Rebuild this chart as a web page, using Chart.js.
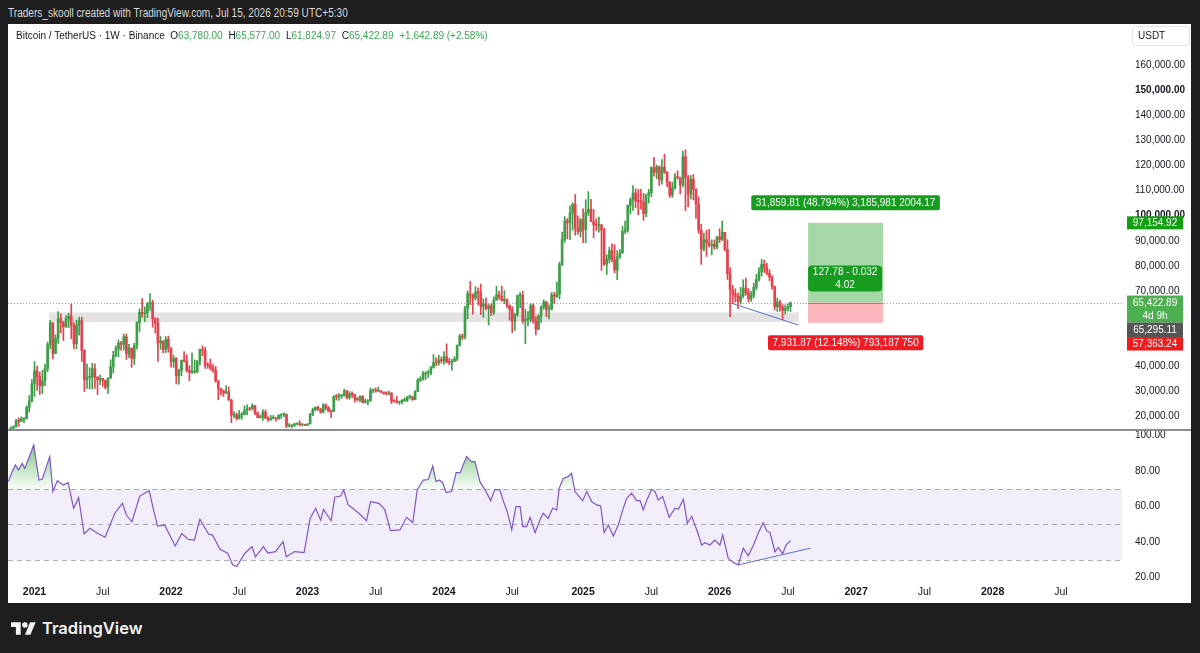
<!DOCTYPE html>
<html>
<head>
<meta charset="utf-8">
<title>Bitcoin / TetherUS 1W</title>
<script src="https://cdn.jsdelivr.net/npm/chart.js@4.4.1/dist/chart.umd.min.js"></script>
<style>
  html, body { margin: 0; padding: 0; }
  body { width: 1200px; height: 653px; background: #1e1e1e; position: relative; overflow: hidden; font-family: "Liberation Sans", Arial, sans-serif; }
  #hdr { position: absolute; left: 8px; top: 5px; font-size: 12px; line-height: 16px; color: #d8d8d8; white-space: nowrap; transform: scaleX(0.84); transform-origin: 0 0; }
  #panel { position: absolute; left: 8px; top: 24px; width: 1183px; height: 579px; background: #fff; }
  #priceCanvas { position: absolute; left: 0; top: 0; }
  #rsiCanvas { position: absolute; left: 0; top: 405px; }
  #legend { position: absolute; left: 8px; top: 5px; font-size: 10px; line-height: 14px; color: #131722; white-space: nowrap; }
  #legend .v { color: #3fa65a; margin-right: 3px; }
  #logo { position: absolute; left: 11px; top: 617px; height: 22px; display: flex; align-items: center; color: #f2f2f2; font-family: Inter, "Open Sans", sans-serif; font-weight: 600; font-size: 16.5px; }
  #logo svg { margin-right: 6px; }
</style>
</head>
<body>
<div id="hdr">Traders_skooll created with TradingView.com, Jul 15, 2026 20:59 UTC+5:30</div>
<div id="panel">
  <canvas id="priceCanvas" width="1183" height="405"></canvas>
  <canvas id="rsiCanvas" width="1183" height="174"></canvas>
  <div id="legend">Bitcoin / TetherUS · 1W · Binance&nbsp;&nbsp;O<span class="v">63,780.00</span> H<span class="v">65,577.00</span> L<span class="v">61,824.97</span> C<span class="v">65,422.89</span> <span class="v">+1,642.89 (+2.58%)</span></div>
</div>
<div id="logo">
  <svg width="25" height="13" viewBox="0 4 36 18"><path fill="#f2f2f2" d="M14 22H7V11H0V4h14v18zM28 22h-8l7.5-18h8L28 22z"/><circle fill="#f2f2f2" cx="20" cy="8" r="4"/></svg>
  <span>TradingView</span>
</div>
<script>
// weekly bars, week 0 = Monday 26 Oct 2020; prices in thousands of USDT
const weekOrigin = Date.UTC(2020, 9, 26);
const firstOpen = 13.03;

const closes = [
  13.55, 15.48, 15.96, 18.41, 18.18, 19.15, 19.27, 23.78, 26.27, 33.00,
  // 2021
  38.20, 36.00, 32.30, 34.30, 39.20, 48.60, 57.40, 45.20, 51.20, 59.00, 57.50, 55.80, 58.90,
  60.00, 56.20, 49.00, 56.60, 58.20, 46.40, 34.70, 35.60, 35.80, 39.10, 35.60, 34.70, 35.30,
  34.30, 31.80, 35.40, 39.80, 44.40, 47.00, 49.30, 48.80, 51.80, 45.00, 47.30, 43.20, 48.20,
  57.50, 61.50, 61.00, 61.30, 64.90, 65.50, 59.00, 57.30, 49.40, 50.10, 46.70, 50.80, 47.30,
  // 2022
  41.90, 43.10, 36.30, 38.50, 42.40, 42.20, 38.40, 37.70, 37.80, 37.80, 42.20, 46.80, 46.40,
  40.50, 40.40, 39.40, 38.50, 34.30, 31.30, 30.30, 29.40, 29.90, 26.60, 20.60, 20.80, 19.30,
  20.80, 20.80, 22.60, 23.30, 23.20, 24.40, 21.50, 19.60, 19.80, 21.80, 19.40, 18.80, 19.40,
  19.40, 19.20, 20.60, 20.80, 20.90, 16.30, 16.30, 16.45, 17.10, 17.10, 16.80, 16.80, 16.60,
  // 2023
  17.10, 20.90, 22.70, 23.70, 22.90, 21.80, 24.60, 23.60, 22.20, 22.10, 28.00, 27.90, 28.30,
  28.30, 30.30, 27.60, 29.20, 28.90, 26.90, 26.70, 28.10, 25.80, 25.90, 26.30, 30.50, 30.60,
  30.20, 30.20, 29.90, 29.30, 29.05, 29.40, 26.10, 26.00, 25.80, 25.80, 26.50, 26.50, 27.90,
  27.90, 26.80, 30.00, 34.50, 35.00, 37.00, 37.40, 37.45, 39.50, 41.50, 41.40, 42.50, 42.30,
  // 2024
  43.95, 41.70, 41.60, 42.00, 43.00, 48.30, 52.10, 51.70, 63.10, 68.90, 68.40, 67.20, 69.60,
  69.40, 63.90, 64.90, 63.10, 64.00, 61.50, 66.30, 68.50, 67.80, 66.20, 66.60, 64.25, 62.70,
  58.00, 60.80, 68.20, 68.25, 58.10, 58.70, 58.90, 64.20, 58.00, 54.80, 60.00, 63.60, 65.60,
  62.80, 62.80, 68.40, 67.90, 68.80, 80.40, 90.50, 97.90, 97.20, 101.10, 104.50, 95.20, 93.70, 98.40,
  // 2025
  94.50, 101.30, 102.60, 97.70, 96.50, 96.10, 96.30, 94.30, 80.70, 82.60, 86.10, 82.40, 78.40,
  83.70, 85.20, 93.70, 94.30, 104.10, 106.40, 109.00, 105.80, 105.70, 105.60, 100.90, 108.40, 109.20,
  119.10, 117.30, 119.40, 114.20, 119.30, 117.40, 113.50, 108.20, 111.10, 115.30, 115.20, 112.20, 123.50,
  115.10, 108.60, 114.50, 110.50, 104.70, 94.20, 86.80, 90.40, 89.30, 88.20, 88.60, 87.60, 91.50,
  // 2026
  90.50, 93.40, 86.60, 76.90, 70.50, 68.80, 67.90, 65.90, 68.20, 71.20, 69.40, 66.90, 68.30,
  71.50, 74.60, 77.60, 80.60, 79.40, 77.10, 75.60, 71.70, 63.80, 65.60, 63.60, 62.20, 63.00,
  63.78, 65.42289
];

const highs = [
  14.10, 15.97, 16.48, 18.95, 19.48, 19.92, 19.40, 24.30, 28.40, 34.80,
  // 2021
  41.95, 40.10, 37.80, 38.50, 40.95, 49.70, 58.35, 57.50, 52.60, 61.80, 61.00, 58.00, 60.20,
  61.20, 64.85, 57.50, 58.50, 59.60, 59.60, 46.60, 40.90, 39.50, 41.30, 41.00, 36.00, 36.60,
  35.10, 34.70, 35.45, 42.60, 46.00, 48.20, 50.50, 50.00, 52.90, 52.90, 48.80, 47.30, 49.20,
  57.80, 62.90, 67.00, 63.70, 65.50, 69.00, 66.40, 59.40, 59.20, 51.90, 50.20, 51.90, 52.10,
  // 2022
  47.50, 44.50, 43.50, 38.90, 42.60, 45.90, 44.60, 40.30, 45.40, 42.60, 42.30, 46.90, 48.20,
  47.60, 41.50, 42.97, 40.80, 40.00, 34.20, 31.00, 30.60, 32.40, 31.80, 26.90, 22.00, 21.50,
  22.50, 21.60, 24.30, 24.70, 23.60, 25.20, 24.50, 21.90, 20.60, 22.80, 22.70, 19.90, 20.50,
  20.50, 19.50, 20.80, 21.10, 21.50, 21.10, 17.20, 16.80, 17.40, 17.40, 18.40, 17.00, 16.90,
  // 2023
  17.20, 21.30, 23.40, 23.90, 24.25, 23.30, 25.25, 25.10, 24.00, 22.60, 28.40, 28.90, 29.20,
  28.80, 31.00, 30.50, 30.00, 29.90, 28.90, 27.60, 28.30, 28.40, 27.00, 26.80, 31.40, 31.00,
  31.50, 31.80, 30.40, 29.70, 29.90, 30.20, 29.60, 26.80, 28.10, 26.10, 26.80, 27.50, 28.00,
  28.60, 28.00, 30.40, 35.20, 35.90, 38.00, 37.90, 38.40, 40.00, 44.70, 43.40, 44.40, 43.80,
  // 2024
  45.90, 49.00, 43.20, 42.80, 43.90, 48.60, 52.80, 52.90, 64.00, 70.10, 73.80, 68.90, 71.80,
  71.30, 72.80, 66.90, 67.30, 64.70, 65.00, 67.70, 71.95, 70.00, 71.95, 70.20, 66.90, 64.50,
  63.80, 61.00, 68.40, 69.40, 70.00, 62.70, 61.80, 65.00, 64.90, 59.80, 60.60, 64.10, 66.50,
  66.00, 64.50, 69.40, 69.50, 73.60, 81.50, 93.50, 99.60, 98.90, 103.90, 105.20, 108.40, 99.90, 98.98,
  // 2025
  102.70, 106.40, 109.60, 106.50, 102.50, 98.80, 99.50, 96.50, 95.00, 84.50, 87.50, 88.80, 88.50,
  86.10, 86.50, 95.80, 97.90, 104.30, 107.10, 111.98, 110.70, 110.40, 110.50, 108.90, 108.50, 110.50,
  119.50, 123.20, 120.20, 119.80, 122.30, 124.50, 117.60, 113.40, 113.40, 116.80, 117.90, 114.00, 125.70,
  126.20, 116.10, 116.00, 116.40, 110.80, 107.50, 96.60, 93.10, 94.20, 94.60, 90.40, 90.40, 91.80,
  // 2026
  94.80, 97.90, 93.40, 90.50, 79.30, 72.30, 70.90, 69.30, 71.50, 74.50, 75.20, 71.00, 69.90,
  73.20, 76.60, 79.30, 82.60, 82.30, 81.00, 78.50, 76.20, 72.00, 67.20, 66.40, 64.60, 64.50,
  64.90, 65.577
];

const lows = [
  12.75, 13.20, 14.80, 15.80, 16.20, 18.10, 17.60, 19.00, 21.80, 25.90,
  // 2021
  28.10, 30.40, 28.85, 29.20, 32.30, 37.90, 47.00, 43.00, 45.00, 49.15, 53.30, 50.30, 55.50,
  55.40, 51.00, 47.00, 47.00, 52.40, 42.00, 30.00, 31.20, 31.00, 31.00, 31.25, 28.80, 32.70,
  32.10, 31.00, 29.30, 35.20, 37.30, 43.80, 43.90, 46.40, 46.50, 42.80, 43.40, 39.60, 40.80,
  46.90, 53.90, 59.50, 57.80, 59.40, 62.30, 55.60, 53.30, 42.00, 46.80, 45.50, 45.50, 45.70,
  // 2022
  39.70, 39.60, 33.00, 32.90, 36.20, 41.70, 37.80, 34.30, 37.20, 37.20, 37.60, 40.50, 44.20,
  39.20, 39.20, 38.50, 37.70, 33.70, 26.70, 28.60, 28.00, 29.30, 26.50, 17.60, 19.60, 18.60,
  19.00, 18.90, 21.00, 20.70, 22.40, 22.70, 20.80, 19.50, 19.50, 18.50, 19.30, 18.10, 18.50,
  19.10, 18.20, 18.90, 19.30, 20.00, 15.60, 15.80, 15.50, 16.00, 16.70, 16.30, 16.30, 16.40,
  // 2023
  16.50, 17.10, 20.40, 22.30, 22.50, 21.35, 21.50, 22.70, 21.90, 19.55, 21.90, 26.60, 26.50,
  27.20, 28.20, 27.10, 26.90, 27.70, 25.80, 26.20, 25.90, 25.40, 25.35, 24.80, 26.20, 29.50,
  29.70, 29.90, 29.50, 28.90, 28.60, 28.70, 25.20, 25.80, 25.30, 24.90, 25.10, 26.00, 26.00,
  27.20, 26.50, 26.90, 29.90, 33.90, 34.50, 34.80, 35.60, 36.70, 39.30, 40.20, 40.50, 41.30,
  // 2024
  40.75, 41.50, 40.60, 38.55, 41.90, 42.30, 48.10, 50.60, 50.90, 59.00, 64.60, 60.80, 66.40,
  64.50, 60.70, 59.60, 62.40, 56.50, 60.20, 60.70, 66.60, 66.70, 66.00, 65.00, 63.40, 58.40,
  53.50, 54.30, 59.90, 63.40, 57.10, 49.00, 56.10, 57.80, 57.20, 52.55, 54.60, 57.50, 62.70,
  59.80, 58.90, 62.40, 65.05, 67.40, 66.80, 80.20, 89.40, 90.80, 90.50, 94.20, 92.20, 92.50, 91.50,
  // 2025
  89.30, 89.30, 100.10, 97.60, 91.20, 94.10, 93.40, 78.20, 80.20, 76.60, 81.20, 81.60, 77.20,
  74.50, 83.00, 85.10, 92.80, 93.40, 100.70, 102.10, 103.10, 100.40, 102.70, 98.20, 99.60, 105.10,
  107.50, 115.70, 114.70, 112.00, 112.60, 116.80, 111.60, 107.30, 107.30, 110.60, 114.60, 108.60, 111.60,
  102.00, 103.50, 106.60, 106.30, 98.90, 93.00, 80.60, 86.00, 83.80, 87.60, 84.40, 86.60, 86.80,
  // 2026
  89.30, 90.10, 86.10, 74.60, 59.80, 65.10, 65.60, 63.00, 64.80, 67.30, 68.40, 65.60, 65.90,
  67.30, 70.50, 73.90, 76.00, 77.40, 76.30, 74.20, 70.80, 62.50, 61.90, 62.00, 58.50, 60.80,
  62.10, 61.82497
];

// RSI(14): week position and value
const rsiWeeks = [
  0, 1.2, 2.7, 3.9, 5.3, 6.3, 7.8, 9.7, 11.7, 12.9, 15.8, 17.0, 18.7, 20.9, 22.8, 24.9, 26.8,
  28.9, 31.1, 34.0, 36.9, 40.6, 43.5, 45.0, 47.1, 50.1, 53.7, 55.2, 56.9, 59.6, 61.7, 63.6,
  66.1, 68.6, 70.9, 73.0, 76.3, 77.8, 80.7, 83.6, 85.5, 87.0, 90.2, 92.8, 94.2, 97.2, 98.9,
  101.8, 104.7, 105.9, 109.1, 112.7, 115.0, 117.1, 119.0, 120.1, 123.0, 124.4, 126.6, 127.8,
  129.5, 131.7, 133.9, 136.5, 138.0, 141.2, 143.4, 145.6,
  149.2, 151.8, 154.1, 155.8, 158.1, 160.0, 161.7, 163.0, 164.2, 165.5, 166.8, 168.9, 170.6,
  172.1, 174.6, 176.5, 177.8, 179.7, 182.0, 183.8, 185.4, 187.3, 188.9, 190.1, 191.8, 193.4,
  195.0, 196.0, 197.5, 198.8, 200.7, 202.6, 203.8, 205.7, 207.4, 208.9, 209.9, 211.4, 213.3,
  214.6, 215.9, 217.5, 218.8, 220.4, 222.3, 224.2, 225.7, 227.0, 228.6, 230.5, 232.4, 234.1,
  235.6, 237.5, 239.4, 240.7, 241.9, 243.2, 245.1, 246.4, 247.6, 249.3, 251.8, 254.0, 255.3,
  257.2, 258.7, 260.4, 262.3, 264.2, 265.4, 267.3, 269.2, 271.1, 272.2, 274.3, 276.2, 278.1,
  280.0, 281.9, 283.8, 285.7, 287.6, 288.9, 290.2, 292.1, 293.3, 295.0, 296.3, 298
];
const rsiValues = [
  74.1, 78.8, 83.5, 80.7, 84.4, 81.6, 87.3, 94.8, 75.0, 75.4, 88.2, 68.5, 74.6, 72.2, 73.5, 59.1, 65.1,
  44.6, 47.8, 45.0, 42.8, 56.3, 61.9, 55.3, 51.5, 66.0, 69.0, 59.1, 49.1, 49.6, 43.5, 37.9,
  44.9, 41.6, 41.2, 52.9, 44.6, 44.0, 36.0, 33.8, 27.2, 26.3, 33.8, 37.5, 31.8, 37.5, 33.8,
  34.7, 40.3, 31.8, 34.7, 34.1, 53.4, 59.1, 52.4, 58.5, 52.1, 65.3, 66.0, 69.4,
  61.0, 58.5, 55.9, 52.1, 62.8, 61.9, 58.5, 46.5,
  46.9, 54.0, 51.1, 69.4, 75.0, 75.3, 82.9, 74.1, 75.0, 73.5, 67.9, 68.5, 79.2,
  79.2, 88.2, 85.4, 85.4, 74.1, 68.5, 63.4, 69.8, 69.4, 61.9, 57.2, 46.9, 60.0,
  60.0, 48.8, 48.8, 54.0, 45.4, 52.6, 56.3, 53.4, 59.1, 58.2, 70.3, 75.9, 76.9,
  78.8, 68.5, 65.7, 63.4, 68.5, 62.8, 61.0, 60.4, 45.4, 49.7, 43.5, 49.7, 58.2,
  64.7, 67.6, 63.4, 63.4, 58.2, 63.4, 69.8, 68.5, 63.8, 65.7, 54.0, 59.1, 58.5,
  64.2, 50.7, 54.5, 46.9, 38.4, 39.7, 38.4, 41.2, 38.4, 44.1, 30.9, 28.5, 27.2,
  36.6, 32.3, 38.0, 45.0, 51.0, 46.5, 45.4, 34.6, 37.0, 33.4, 38.4, 40.8
];

const timeTickMonths = [
  [2021, 0], [2021, 6], [2022, 0], [2022, 6], [2023, 0], [2023, 6], [2024, 0], [2024, 6],
  [2025, 0], [2025, 6], [2026, 0], [2026, 6], [2027, 0], [2027, 6], [2028, 0], [2028, 6]
];
const timeTickLabels = ['2021', 'Jul', '2022', 'Jul', '2023', 'Jul', '2024', 'Jul',
  '2025', 'Jul', '2026', 'Jul', '2027', 'Jul', '2028', 'Jul'];
const priceTicks = [20, 30, 40, 50, 60, 70, 80, 90, 100, 110, 120, 130, 140, 150, 160];
const rsiTicks = [20, 40, 60, 80, 100];

// drawings
const zoneWeeks = [15.5, 301.2];
const zonePrices = [57.7, 61.5];
const trendWeeks = [275.6, 301.0];
const trendPrices = [65.13, 56.49];
const rsiTrendWeeks = [278.1, 305.8];
const rsiTrendValues = [27.2, 36.7];
const positionWeeks = [304.7, 333.3];
const entryPrice = 65.42289;
const targetPrice = 97.15492;
const stopPrice = 57.36324;
const targetText = '31,859.81 (48.794%) 3,185,981 2004.17';
const stopText = '7,931.87 (12.148%) 793,187 750';
const ratioText = ['127.78 - 0.032', '4.02'];
const axisTags = { target: '97,154.92', last: '65,422.89', countdown: '4d 9h', prev: '65,295.11', stop: '57,363.24' };

const UP = '#3d9e48';
const DOWN = '#e3424e';
const FONT = '"Liberation Sans", Arial, sans-serif';
const X_MIN = -0.1, X_MAX = 424.3;
const AXIS_W = 69;

Chart.defaults.font.family = FONT;
Chart.defaults.color = '#131722';

function firstBarOfMonth(y, m) {
  const d = new Date(Date.UTC(y, m, 1));
  const shift = (8 - d.getUTCDay()) % 7;
  return Math.round((d.getTime() + shift * 864e5 - weekOrigin) / (7 * 864e5));
}
const timeTickWeeks = timeTickMonths.map(([y, m]) => firstBarOfMonth(y, m));

const opens = closes.map((c, i) => i === 0 ? firstOpen : closes[i - 1]);
const candleColors = closes.map((c, i) => c >= opens[i] ? UP : DOWN);

function roundBox(ctx, x, y, w, h, r, fill) {
  ctx.fillStyle = fill;
  ctx.beginPath();
  ctx.roundRect(x, y, w, h, r);
  ctx.fill();
}

function tag(ctx, lines, cx, cy, h, bg, fixedW, r) {
  ctx.font = '10px ' + FONT;
  const tw = Math.max(...lines.map(l => ctx.measureText(l).width));
  const w = fixedW || tw + 9;
  roundBox(ctx, cx - w / 2, cy - h / 2, w, h, r, bg);
  ctx.fillStyle = '#fff';
  ctx.textAlign = 'center';
  ctx.textBaseline = 'middle';
  const lh = h / lines.length;
  lines.forEach((l, i) => ctx.fillText(l, cx, cy - h / 2 + lh * (i + 0.5) + 0.5));
}

function axisTag(ctx, lines, x, top, h, bg) {
  ctx.fillStyle = bg;
  ctx.fillRect(x, top, 56, h);
  ctx.fillStyle = '#fff';
  ctx.font = '10px ' + FONT;
  ctx.textAlign = 'center';
  ctx.textBaseline = 'middle';
  const lh = h / lines.length;
  lines.forEach((l, i) => ctx.fillText(l, x + 28, top + lh * (i + 0.5) + 0.5));
}

const priceOverlay = {
  id: 'priceOverlay',
  beforeDatasetsDraw(chart) {
    const { ctx, chartArea: a, scales: { x, y } } = chart;
    ctx.save();
    // support zone
    const zx1 = x.getPixelForValue(zoneWeeks[0]);
    const zx2 = x.getPixelForValue(zoneWeeks[1]);
    const zy1 = y.getPixelForValue(zonePrices[1]);
    const zy2 = y.getPixelForValue(zonePrices[0]);
    ctx.fillStyle = 'rgba(0,0,0,0.11)';
    ctx.fillRect(zx1, zy1, zx2 - zx1, zy2 - zy1);
    // last price line
    const ly = Math.round(y.getPixelForValue(closes[closes.length - 1])) + 0.5;
    ctx.strokeStyle = '#9a9ca3';
    ctx.lineWidth = 1;
    ctx.setLineDash([1, 2]);
    ctx.beginPath();
    ctx.moveTo(a.left, ly);
    ctx.lineTo(a.right, ly);
    ctx.stroke();
    ctx.restore();
  },
  afterDatasetsDraw(chart) {
    const { ctx, scales: { x, y } } = chart;
    ctx.save();
    const px1 = x.getPixelForValue(positionWeeks[0]);
    const px2 = x.getPixelForValue(positionWeeks[1]);
    const yT = y.getPixelForValue(targetPrice);
    const yE = y.getPixelForValue(entryPrice);
    const yS = y.getPixelForValue(stopPrice);
    ctx.fillStyle = 'rgba(76,175,80,0.5)';
    ctx.fillRect(px1, yT, px2 - px1, yE - yT);
    ctx.fillStyle = 'rgba(242,54,69,0.36)';
    ctx.fillRect(px1, yE, px2 - px1, yS - yE);
    ctx.strokeStyle = '#8a8a8a';
    ctx.lineWidth = 1;
    ctx.beginPath();
    ctx.moveTo(px1, Math.round(yE) + 0.5);
    ctx.lineTo(px2, Math.round(yE) + 0.5);
    ctx.stroke();
    const cx = (px1 + px2) / 2;
    tag(ctx, [targetText], cx, yT - 20, 15, '#169c1f', 0, 2);
    tag(ctx, ratioText, cx - 0.5, yE - 24, 26, '#169c1f', px2 - px1 - 1, 4);
    tag(ctx, [stopText], cx, yS + 20, 15, '#ee1c25', 0, 2);
    ctx.restore();
  },
  afterDraw(chart) {
    const { ctx, chartArea: a, scales: { y } } = chart;
    ctx.save();
    const ax = a.right + 5;
    const yT = y.getPixelForValue(targetPrice);
    axisTag(ctx, [axisTags.target], ax, yT - 6.5, 13, '#12a012');
    const yE = y.getPixelForValue(entryPrice);
    axisTag(ctx, [axisTags.last, axisTags.countdown], ax, yE - 7, 27, '#4caf50');
    axisTag(ctx, [axisTags.prev], ax, yE + 20, 14.5, '#555555');
    axisTag(ctx, [axisTags.stop], ax, yE + 34.5, 13.5, '#f21b1b');
    // currency box
    ctx.fillStyle = '#fff';
    ctx.strokeStyle = '#e0e3eb';
    ctx.lineWidth = 1;
    ctx.beginPath();
    ctx.roundRect(a.right + 10.5, 2.5, 57, 19, 2);
    ctx.fill();
    ctx.stroke();
    ctx.fillStyle = '#131722';
    ctx.font = '10px ' + FONT;
    ctx.textAlign = 'left';
    ctx.textBaseline = 'middle';
    ctx.fillText('USDT', a.right + 16, 12.5);
    ctx.restore();
  }
};

const weeks = closes.map((c, i) => i);

new Chart(document.getElementById('priceCanvas'), {
  type: 'bar',
  data: {
    datasets: [
      {
        type: 'line',
        data: trendWeeks.map((w, i) => ({ x: w, y: trendPrices[i] })),
        borderColor: '#5b6fd0',
        borderWidth: 1,
        pointRadius: 0,
        order: 0
      },
      {
        data: weeks.map(i => ({ x: i, y: [Math.min(opens[i], closes[i]), Math.max(opens[i], closes[i])] })),
        backgroundColor: candleColors,
        barThickness: 2,
        minBarLength: 1,
        grouped: false,
        order: 1
      },
      {
        data: weeks.map(i => ({ x: i, y: [lows[i], highs[i]] })),
        backgroundColor: candleColors,
        barThickness: 1,
        grouped: false,
        order: 2
      }
    ]
  },
  options: {
    responsive: false,
    animation: false,
    devicePixelRatio: 1,
    layout: { autoPadding: false, padding: 0 },
    plugins: { legend: { display: false }, tooltip: { enabled: false } },
    scales: {
      x: { type: 'linear', min: X_MIN, max: X_MAX, offset: false, display: false },
      y: {
        type: 'linear',
        position: 'right',
        min: 15.088,
        max: 176.313,
        afterBuildTicks: s => { s.ticks = priceTicks.map(v => ({ value: v })); },
        afterFit: s => { s.width = AXIS_W; s.paddingTop = 0; s.paddingBottom = 0; },
        grid: { display: false, drawTicks: false },
        border: { display: false },
        ticks: {
          padding: 13,
          color: '#131722',
          callback: v => (v * 1000).toLocaleString('en-US', { minimumFractionDigits: 2 }),
          font: c => ({ size: 10, family: FONT, weight: (c.tick && (c.tick.value === 150 || c.tick.value === 100)) ? 'bold' : 'normal' })
        }
      }
    }
  },
  plugins: [priceOverlay]
});

function rsiFillColor(from, to, rgb) {
  return c => {
    const chart = c.chart;
    const s = chart.scales && chart.scales.y;
    if (!chart.chartArea || !s) return 'rgba(0,0,0,0)';
    const y0 = s.getPixelForValue(from), y1 = s.getPixelForValue(to);
    if (!isFinite(y0) || !isFinite(y1)) return 'rgba(0,0,0,0)';
    const g = chart.ctx.createLinearGradient(0, y0, 0, y1);
    g.addColorStop(0, 'rgba(' + rgb + ',0.85)');
    g.addColorStop(1, 'rgba(' + rgb + ',0.03)');
    return g;
  };
}

const rsiOverlay = {
  id: 'rsiOverlay',
  beforeDatasetsDraw(chart) {
    const { ctx, chartArea: a, scales: { y } } = chart;
    ctx.save();
    const y70 = y.getPixelForValue(70), y30 = y.getPixelForValue(30);
    ctx.fillStyle = 'rgba(126,87,194,0.1)';
    ctx.fillRect(a.left, y70, a.right - a.left, y30 - y70);
    ctx.strokeStyle = 'rgba(120,123,134,0.6)';
    ctx.lineWidth = 1;
    ctx.setLineDash([5, 4]);
    [70, 50, 30].forEach(v => {
      const yy = Math.round(y.getPixelForValue(v)) + 0.5;
      ctx.beginPath();
      ctx.moveTo(a.left, yy);
      ctx.lineTo(a.right, yy);
      ctx.stroke();
    });
    ctx.restore();
  },
  afterDraw(chart) {
    const { ctx, width } = chart;
    ctx.save();
    ctx.fillStyle = '#8c8c8c';
    ctx.fillRect(0, 0, width, 2);
    ctx.restore();
  }
};

const rsiPoints = rsiWeeks.map((w, i) => ({ x: w, y: rsiValues[i] }));

new Chart(document.getElementById('rsiCanvas'), {
  type: 'line',
  data: {
    datasets: [
      {
        data: rsiTrendWeeks.map((w, i) => ({ x: w, y: rsiTrendValues[i] })),
        borderColor: '#5b6fd0',
        borderWidth: 1,
        pointRadius: 0,
        fill: false,
        order: 0
      },
      {
        data: rsiPoints,
        borderColor: '#7e57c2',
        borderWidth: 1.2,
        pointRadius: 0,
        tension: 0,
        fill: { target: { value: 70 }, below: 'rgba(0,0,0,0)' },
        backgroundColor: rsiFillColor(100, 70, '76,175,80'),
        order: 1
      },
      {
        data: rsiPoints,
        borderColor: 'rgba(0,0,0,0)',
        borderWidth: 0,
        pointRadius: 0,
        fill: { target: { value: 30 }, above: 'rgba(0,0,0,0)' },
        backgroundColor: rsiFillColor(0, 30, '242,54,69'),
        order: 2
      }
    ]
  },
  options: {
    responsive: false,
    animation: false,
    devicePixelRatio: 1,
    layout: { autoPadding: false, padding: { left: 0, right: 0, top: 1, bottom: 0 } },
    plugins: { legend: { display: false }, tooltip: { enabled: false } },
    scales: {
      x: {
        type: 'linear',
        min: X_MIN,
        max: X_MAX,
        offset: false,
        afterBuildTicks: s => { s.ticks = timeTickWeeks.map(v => ({ value: v })); },
        afterFit: s => { s.height = 23; s.paddingLeft = 0; s.paddingRight = 0; },
        grid: { display: false, drawTicks: false },
        border: { display: false },
        ticks: {
          autoSkip: false,
          maxRotation: 0,
          minRotation: 0,
          padding: 6,
          color: '#131722',
          callback: (v, i) => timeTickLabels[i],
          font: c => ({ size: 10.5, family: FONT, weight: c.index % 2 === 0 ? 'bold' : 'normal' })
        }
      },
      y: {
        type: 'linear',
        position: 'right',
        min: 18.7,
        max: 103.2,
        afterBuildTicks: s => { s.ticks = rsiTicks.map(v => ({ value: v })); },
        afterFit: s => { s.width = AXIS_W; s.paddingTop = 0; s.paddingBottom = 0; },
        grid: { display: false, drawTicks: false },
        border: { display: false },
        ticks: {
          padding: 13,
          color: '#131722',
          font: { size: 10, family: FONT },
          callback: v => v.toFixed(2)
        }
      }
    }
  },
  plugins: [rsiOverlay]
});
</script>
</body>
</html>
